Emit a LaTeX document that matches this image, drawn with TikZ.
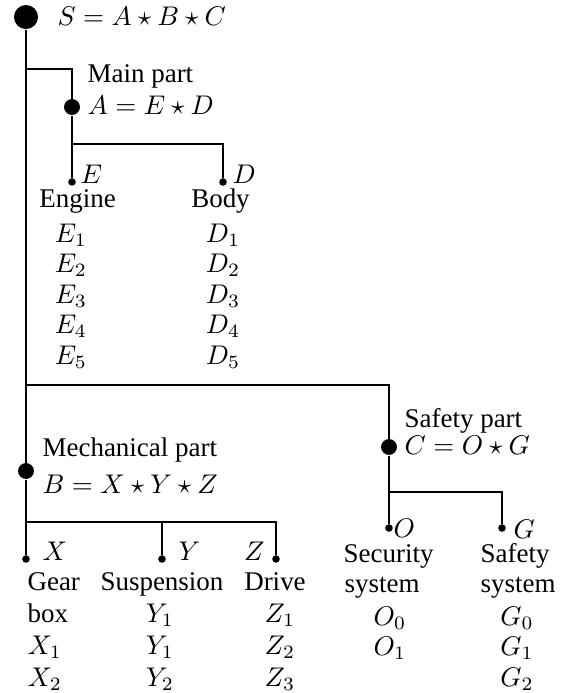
\documentclass[tikz,border=0pt]{standalone}
\usepackage[no-math]{fontspec}
\setmainfont{Liberation Serif}
\newcommand{\rowskip}{3.05}
\newcommand{\lowskip}{3.2}
\tikzset{
    wire/.style={line width=0.8pt},
    dot/.style={draw=none, fill=black, circle, inner sep=0pt},
    rootdot/.style={dot, minimum size=8.9pt},
    partdot/.style={dot, minimum size=5.9pt},
    leafdot/.style={dot, minimum size=2.8pt},
    txt/.style={inner sep=0pt, anchor=base west},
    txtright/.style={inner sep=0pt, anchor=base east},
    item/.style={inner sep=0pt, anchor=base}
}
\begin{document}
\begin{tikzpicture}[x=1.302mm, y=-1.302mm]
    \useasboundingbox (0,0) rectangle (56.5,69.3);

    % dots
    \node[rootdot] (S) at (2.6,1.7) {};
    \node[partdot] (A) at (7.2,10.7) {};
    \node[leafdot] (E) at (7.2,18.2) {};
    \node[leafdot] (D) at (22.3,18.2) {};
    \node[partdot] (B) at (2.6,47.1) {};
    \node[leafdot] (X) at (2.6,55.9) {};
    \node[leafdot] (Y) at (16.2,55.9) {};
    \node[leafdot] (Z) at (27.6,55.9) {};
    \node[partdot] (C) at (38.9,44.7) {};
    \node[leafdot] (O) at (38.9,52.8) {};
    \node[leafdot] (G) at (50.2,52.8) {};

    % junctions
    \coordinate (S-A) at (2.6,6.9);
    \coordinate (A-D) at (7.2,14.4);
    \coordinate (S-C) at (2.6,38.5);
    \coordinate (C-G) at (38.9,49.2);
    \coordinate (B-Z) at (2.6,52.2);

    \draw[wire] (S) -- (B) -- (X);
    \draw[wire] (S-A) -| (A) -- (E);
    \draw[wire] (A-D) -| (D);
    \draw[wire] (S-C) -| (C) -- (O);
    \draw[wire] (C-G) -| (G);
    \draw[wire] (B-Z) -| (Y);
    \draw[wire] (B-Z) -| (Z);

    % part names
    \node[txt] (S-text) at (5.7,2.5) {$S = A \star B \star C$};
    \node[txt] (A-name) at (8.7,8.2) {Main part};
    \node[txt] (A-text) at (8.7,11.4) {$A = E \star D$};
    \node[txt] (B-name) at (4.2,45.6) {Mechanical part};
    \node[txt] (B-text) at (4.2,49.3) {$B = X \star Y \star Z$};
    \node[txt] (C-name) at (40.4,42.7) {Safety part};
    \node[txt] (C-text) at (40.4,45.4) {$C = O \star G$};

    % leaf letters
    \node[txt] (E-lab) at (8.0,18.3) {$E$};
    \node[txt] (D-lab) at (23.2,18.3) {$D$};
    \node[txt] (X-lab) at (4.2,56.0) {$X$};
    \node[txt] (Y-lab) at (17.8,56.0) {$Y$};
    \node[txtright] (Z-lab) at (26.5,56.0) {$Z$};
    \node[txt] (O-lab) at (39.3,53.7) {$O$};
    \node[txt] (G-lab) at (51.3,53.8) {$G$};

    % leaf names
    \node[item] (E-name) at (7.75,20.7) {Engine};
    \node[item] (D-name) at (22.05,20.7) {Body};
    \node[txt] (X-name) at (2.7,59.0) {Gear};
    \node[txt] (X-name2) at (2.7,62.2) {box};
    \node[item] (Y-name) at (16.2,59.0) {Suspension};
    \node[item] (Z-name) at (27.5,59.0) {Drive};
    \node[txt] (O-name) at (34.3,56.2) {Security};
    \node[txt] (O-name2) at (34.4,59.2) {system};
    \node[txt] (G-name) at (48.0,56.2) {Safety};
    \node[txt] (G-name2) at (48.0,59.2) {system};

    % variants
    \foreach \i in {1,...,5} {
        \node[item] (E\i) at (7.1,{24.2+\rowskip*(\i-1)}) {$E_{\i}$};
        \node[item] (D\i) at (22.3,{24.2+\rowskip*(\i-1)}) {$D_{\i}$};
    }
    \foreach \v [count=\k] in {X_1, X_2}
        \node[txt] (X\k) at (2.7,{65.4+\lowskip*(\k-1)}) {$\v$};
    \foreach \v [count=\k] in {Y_1, Y_1, Y_2}
        \node[item] (Y\k) at (16.0,{62.2+\lowskip*(\k-1)}) {$\v$};
    \foreach \v [count=\k] in {Z_1, Z_2, Z_3}
        \node[item] (Z\k) at (28.0,{62.2+\lowskip*(\k-1)}) {$\v$};
    \foreach \v [count=\k] in {O_0, O_1}
        \node[item] (O\k) at (39.0,{62.5+\rowskip*(\k-1)}) {$\v$};
    \foreach \v [count=\k] in {G_0, G_1, G_2}
        \node[item] (G\k) at (51.7,{62.5+\rowskip*(\k-1)}) {$\v$};
\end{tikzpicture}
\end{document}
